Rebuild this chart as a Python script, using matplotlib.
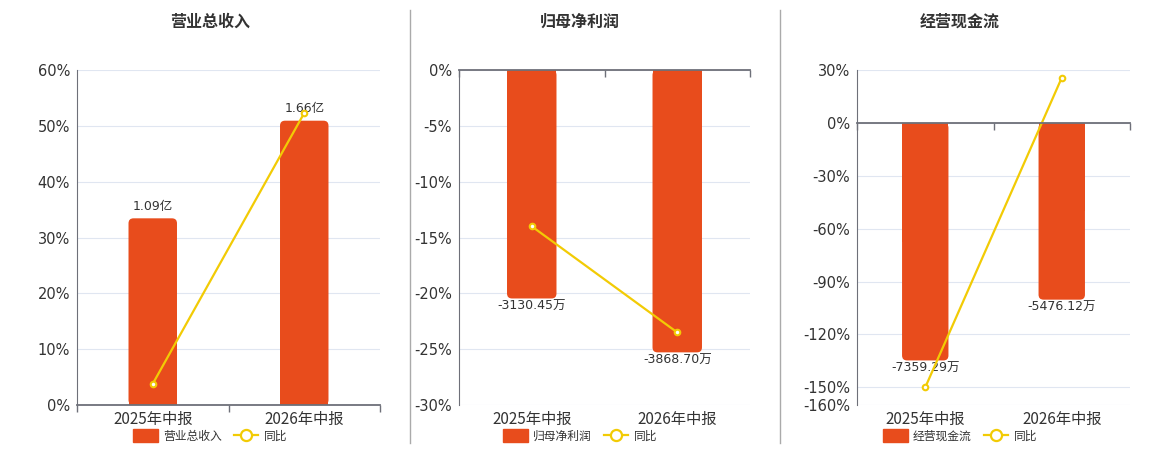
import numpy as np
import matplotlib
matplotlib.use('Agg')
import matplotlib.pyplot as plt
import matplotlib.transforms as mtransforms
from matplotlib.lines import Line2D
from matplotlib.patches import Patch, FancyBboxPatch, Rectangle

plt.rcParams['font.family'] = ['DejaVu Sans', 'Noto Sans CJK SC']
CJK = ['Noto Sans CJK SC', 'DejaVu Sans']

# Data
categories = ['2025年中报', '2026年中报']
titles = ['营业总收入', '归母净利润', '经营现金流']

revenue = [1.09, 1.66]            # 亿
revenue_labels = ['1.09亿', '1.66亿']
revenue_yoy = [3.8, 52.3]

profit = [-3130.45, -3868.70]     # 万
profit_labels = ['-3130.45万', '-3868.70万']
profit_yoy = [-14.0, -23.5]

cash = [-7359.29, -5476.12]       # 万
cash_labels = ['-7359.29万', '-5476.12万']
cash_yoy = [-150.0, 25.6]

pct_ticks = [
    [0, 10, 20, 30, 40, 50, 60],
    [0, -5, -10, -15, -20, -25, -30],
    [30, 0, -30, -60, -90, -120, -150, -160],
]
pct_lims = [(0, 60), (-30, 0), (-160, 30)]
bar_lims = [(0, 1.956), (-4590, 0), (-8740, 1640)]

bars = [revenue, profit, cash]
bar_labels = [revenue_labels, profit_labels, cash_labels]
yoys = [revenue_yoy, profit_yoy, cash_yoy]
bar_widths = [0.32, 0.34, 0.34]

# Layout (pixels)
W, H = 1160, 450
ax_x = [(77, 380), (459, 750), (857, 1130)]
centers = [210, 580, 960]
ax_top, ax_bot = 70, 405

BAR_C = '#E84C1C'
LINE_C = '#F2CB05'
TXT_C = '#333333'
AXIS_C = '#6E7079'
GRID_C = '#E0E6F1'

fig = plt.figure(figsize=(W / 100, H / 100), dpi=100)

for k in range(3):
    x0, x1 = ax_x[k]
    rect = [x0 / W, 1 - ax_bot / H, (x1 - x0) / W, (ax_bot - ax_top) / H]
    ax = fig.add_axes(rect)
    axb = ax.twinx()
    axl = ax.twinx()
    ax.set_zorder(1)
    axb.set_zorder(2)
    axl.set_zorder(3)
    axb.patch.set_visible(False)
    axl.patch.set_visible(False)

    x = np.arange(len(categories))
    for a in (ax, axb, axl):
        a.set_xlim(-0.5, 1.5)
        for s in a.spines.values():
            s.set_visible(False)

    # percent axis with grid
    ax.set_ylim(*pct_lims[k])
    ax.set_yticks(pct_ticks[k])
    ax.set_yticklabels([f'{t}%' for t in pct_ticks[k]], fontsize=10.5, color=TXT_C)
    ax.tick_params(axis='y', length=0, pad=5)
    ax.yaxis.grid(True, color=GRID_C, linewidth=0.8)
    ax.spines['left'].set_visible(True)
    ax.spines['left'].set_color(AXIS_C)

    # bars with rounded far end
    axb.set_ylim(*bar_lims[k])
    axb.set_yticks([])
    xpp = 2.0 / (x1 - x0)
    ypp = (bar_lims[k][1] - bar_lims[k][0]) / (ax_bot - ax_top)
    r = 5 * xpp
    w = bar_widths[k]
    for i, v in enumerate(bars[k]):
        lo = min(0, v)
        h = abs(v)
        axb.add_patch(FancyBboxPatch((i - w / 2, lo), w, h,
                                     boxstyle=f'round,pad=0,rounding_size={r}',
                                     mutation_aspect=ypp / xpp,
                                     facecolor=BAR_C, edgecolor='none'))
        half = h / 2
        axb.add_patch(Rectangle((i - w / 2, 0 if v >= 0 else -half), w, half,
                                facecolor=BAR_C, edgecolor='none'))
        if v >= 0:
            axb.annotate(bar_labels[k][i], (i, v), xytext=(0, 4), textcoords='offset points',
                         ha='center', va='bottom', fontsize=9, color=TXT_C)
        else:
            axb.annotate(bar_labels[k][i], (i, v), xytext=(0, -1), textcoords='offset points',
                         ha='center', va='top', fontsize=9, color=TXT_C)

    # line + zero axis
    axl.set_ylim(*pct_lims[k])
    axl.set_yticks([])
    axl.plot(x, yoys[k], color=LINE_C, linewidth=1.6, marker='o', markersize=4,
             markerfacecolor='white', markeredgecolor=LINE_C, markeredgewidth=1.5)
    axl.xaxis.set_visible(True)
    axl.spines['bottom'].set_visible(True)
    axl.spines['bottom'].set_position(('data', 0))
    axl.spines['bottom'].set_color(AXIS_C)
    axl.spines['bottom'].set_linewidth(1.3)
    axl.set_xticks([-0.5, 0.5, 1.5])
    axl.set_xticklabels([])
    axl.tick_params(axis='x', length=5, width=1, color=AXIS_C, direction='out',
                    bottom=True, top=False)
    ax.tick_params(axis='x', length=0, labelbottom=False)
    axb.tick_params(axis='x', length=0, labelbottom=False)

    # category labels
    trans = mtransforms.blended_transform_factory(ax.transData, ax.transAxes)
    for i, c in enumerate(categories):
        ax.text(i, -0.018, c, transform=trans, ha='center', va='top', fontsize=11,
                color=TXT_C, family=CJK)

    # title
    cx = centers[k] / W
    fig.text(cx, 1 - 22 / H, titles[k], ha='center', va='center', fontsize=11.5,
             fontweight='bold', color=TXT_C, family=CJK)

    # legend
    handles = [Patch(facecolor=BAR_C, edgecolor=BAR_C),
               Line2D([0], [0], color=LINE_C, linewidth=1.6, marker='o', markersize=8,
                      markerfacecolor='white', markeredgecolor=LINE_C, markeredgewidth=1.6)]
    fig.legend(handles, [titles[k], '同比'], loc='center', bbox_to_anchor=(cx, 1 - 436 / H),
               ncol=2, frameon=False, prop={'family': CJK, 'size': 8.5},
               handlelength=2.1, handleheight=1.2,
               columnspacing=1.0, handletextpad=0.45, labelcolor=TXT_C)

# separators
for sx in (410, 780):
    fig.add_artist(Line2D([sx / W, sx / W], [1 - 10 / H, 1 - 443 / H], color='#AAAAAA', linewidth=1))

fig.savefig('out.png', dpi=100, facecolor='white')
